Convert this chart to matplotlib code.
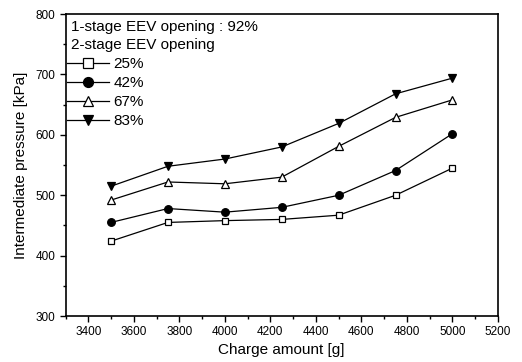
import matplotlib
matplotlib.use("Agg")
import matplotlib.pyplot as plt
from matplotlib.ticker import MultipleLocator

plt.rcParams['font.family'] = ['Liberation Sans', 'DejaVu Sans']

# charge amount [g] and intermediate pressure [kPa] per 2-stage EEV opening
charge = [3500, 3750, 4000, 4250, 4500, 4750, 5000]
p_25 = [424, 455, 458, 460, 467, 500, 545]
p_42 = [455, 478, 472, 480, 500, 541, 602]
p_67 = [492, 522, 519, 530, 581, 629, 658]
p_83 = [515, 548, 560, 580, 619, 668, 694]

series = [
    ("25%", p_25, dict(marker="s", mfc="white", ms=5)),
    ("42%", p_42, dict(marker="o", mfc="black", ms=5.5)),
    ("67%", p_67, dict(marker="^", mfc="white", ms=6)),
    ("83%", p_83, dict(marker="v", mfc="black", ms=6)),
]

fig = plt.figure(figsize=(5.22, 3.62), dpi=100)
ax = fig.add_axes([0.1255, 0.127, 0.8285, 0.834])

for label, vals, style in series:
    ax.plot(charge, vals, color="black", lw=0.9, mec="black", mew=0.9,
            label=label, **style)

ax.set_xlim(3300, 5200)
ax.set_ylim(300, 800)
ax.xaxis.set_major_locator(MultipleLocator(200))
ax.xaxis.set_minor_locator(MultipleLocator(100))
ax.yaxis.set_major_locator(MultipleLocator(100))
ax.yaxis.set_minor_locator(MultipleLocator(50))
ax.tick_params(which="both", direction="out", labelsize=8.5, width=1)
ax.tick_params(which="major", length=4)
ax.tick_params(which="minor", length=2)
for sp in ax.spines.values():
    sp.set_linewidth(1.2)

ax.set_xlabel("Charge amount [g]", fontsize=11, labelpad=3)
ax.set_ylabel("Intermediate pressure [kPa]", fontsize=11, labelpad=5)

ax.text(0.012, 0.957, "1-stage EEV opening : 92%", transform=ax.transAxes,
        fontsize=11, va="center", ha="left")
ax.text(0.012, 0.897, "2-stage EEV opening", transform=ax.transAxes,
        fontsize=11, va="center", ha="left")
ax.legend(loc="upper left", bbox_to_anchor=(0.0, 0.862), frameon=False,
          fontsize=11, handlelength=2.75, handletextpad=0.3,
          labelspacing=0.32, borderaxespad=0, borderpad=0.1, markerscale=1.3)

fig.savefig("out.png", dpi=100)
